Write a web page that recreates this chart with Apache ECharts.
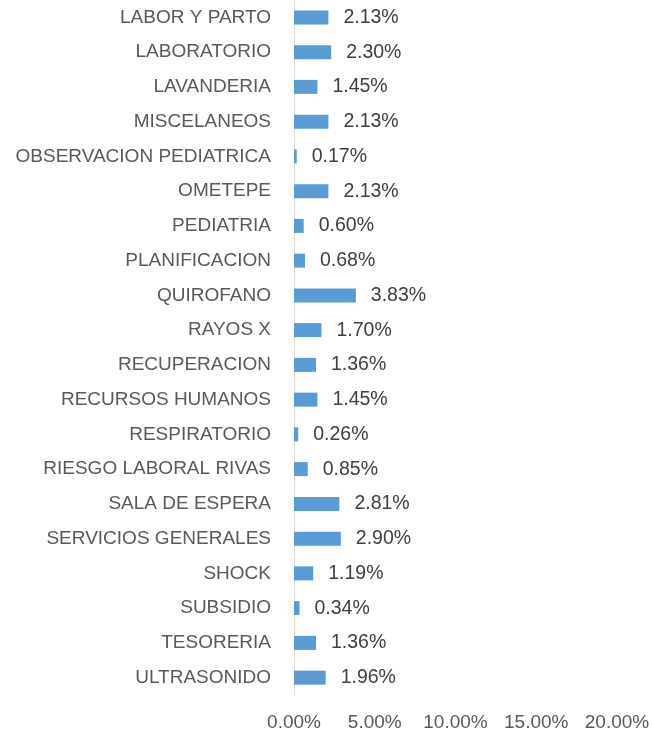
<!DOCTYPE html>
<html>
<head>
<meta charset="utf-8">
<script src="https://cdn.jsdelivr.net/npm/echarts@6/dist/echarts.min.js"></script>
<style>
  html, body { margin: 0; padding: 0; background: #fff; }
  #chart { width: 653px; height: 736px; }
</style>
</head>
<body>
<div id="chart"></div>
<script>
// categorias de arriba hacia abajo
const categories = [
  'LABOR Y PARTO', 'LABORATORIO', 'LAVANDERIA', 'MISCELANEOS', 'OBSERVACION PEDIATRICA',
  'OMETEPE', 'PEDIATRIA', 'PLANIFICACION', 'QUIROFANO', 'RAYOS X',
  'RECUPERACION', 'RECURSOS HUMANOS', 'RESPIRATORIO', 'RIESGO LABORAL RIVAS', 'SALA DE ESPERA',
  'SERVICIOS GENERALES', 'SHOCK', 'SUBSIDIO', 'TESORERIA', 'ULTRASONIDO'
];
const values = [
  2.13, 2.30, 1.45, 2.13, 0.17,
  2.13, 0.60, 0.68, 3.83, 1.70,
  1.36, 1.45, 0.26, 0.85, 2.81,
  2.90, 1.19, 0.34, 1.36, 1.96
];
const xTicks = [0, 5, 10, 15, 20];

const font = '"Liberation Sans", sans-serif';
const myChart = echarts.init(document.getElementById('chart'));
myChart.setOption({
  animation: false,
  grid: { left: 294, right: 36, top: 0, bottom: 41 },
  xAxis: {
    type: 'value',
    min: xTicks[0],
    max: xTicks[xTicks.length - 1],
    interval: 5,
    axisLine: { show: false },
    axisTick: { show: false },
    splitLine: { show: false },
    axisLabel: {
      color: '#595959',
      fontFamily: font,
      fontSize: 19,
      margin: 18,
      formatter: v => v.toFixed(2) + '%'
    }
  },
  yAxis: {
    type: 'category',
    inverse: true,
    data: categories,
    axisLine: { show: true, lineStyle: { color: '#d9d9d9', width: 1 } },
    axisTick: { show: false },
    axisLabel: {
      color: '#595959',
      fontFamily: font,
      fontSize: 19,
      margin: 23
    }
  },
  series: [{
    type: 'bar',
    data: values,
    barWidth: 14,
    itemStyle: { color: '#5b9bd5' },
    label: {
      show: true,
      position: 'right',
      distance: 15,
      color: '#404040',
      fontFamily: font,
      fontSize: 19.5,
      formatter: p => p.value.toFixed(2) + '%'
    }
  }]
});
</script>
</body>
</html>
